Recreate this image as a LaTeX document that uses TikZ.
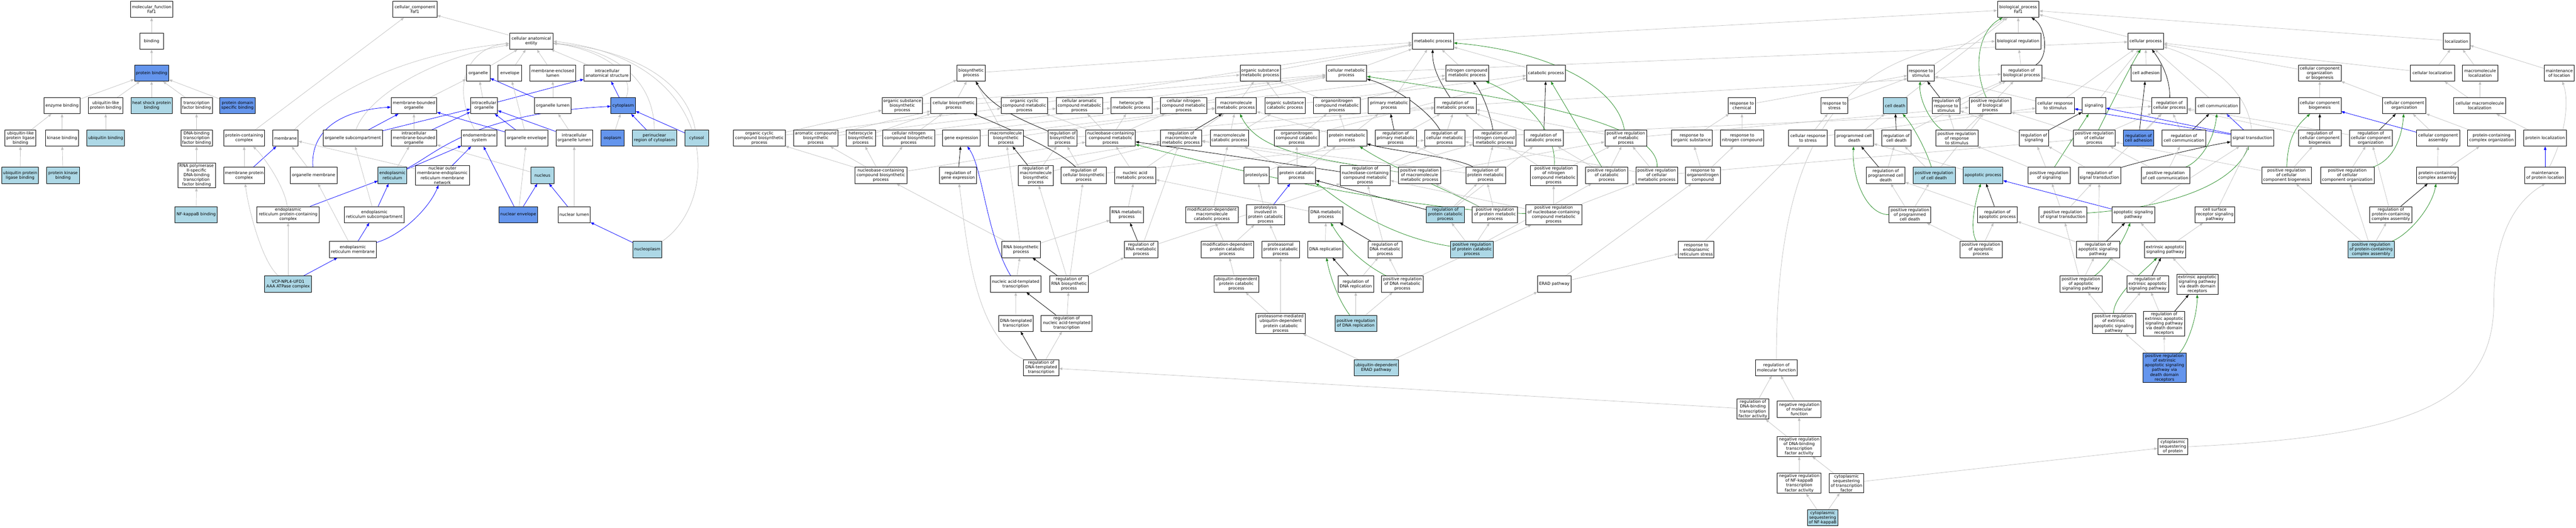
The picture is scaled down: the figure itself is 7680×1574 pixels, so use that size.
\documentclass[tikz,border=0pt]{standalone}
\usepackage{fontspec}
\setmainfont{DejaVu Sans}
\usetikzlibrary{arrows.meta}
\pgfdeclarelayer{background}
\pgfdeclarelayer{paper}
\pgfsetlayers{paper,background,main}
\definecolor{lbfill}{RGB}{173,216,230}
\definecolor{cbfill}{RGB}{100,149,237}
\definecolor{edgegray}{RGB}{192,192,192}
\definecolor{edgegreen}{RGB}{34,139,34}
\tikzset{
  gw/.style={draw=black, line width=1.2pt, fill=white, rectangle, align=center,
     inner xsep=2pt, inner ysep=3pt, minimum height=48pt,
     font=\fontsize{12.3}{14}\selectfont},
  glb/.style={gw, fill=lbfill},
  gcb/.style={gw, fill=cbfill},
  tipstyle/.style={-{Triangle[length=10pt,width=7.5pt]}},
  ge/.style={tipstyle, draw=edgegray, line width=1.1pt},
  be/.style={tipstyle, draw=blue, line width=1.2pt},
  ke/.style={tipstyle, draw=black, line width=1.2pt},
  gre/.style={tipstyle, draw=edgegreen, line width=1.2pt}
}
\newcommand{\gonode}[6]{\node[#1, minimum width=#5pt] (#2) at (#3,#4) {#6};}
\newcommand{\goed}[3]{\draw[#1] (#2) -- (#3);}
\begin{document}
\begin{tikzpicture}[x=1pt,y=-1pt]
\useasboundingbox (0,0) rectangle (7680,1574);
\begin{pgfonlayer}{paper}
\fill[white] (0,0) rectangle (7680,1574);
\end{pgfonlayer}
% ---------------- molecular function
\gonode{gw}{mf}{452}{28}{127}{molecular\_function\\Faf1}
\gonode{gw}{bind}{452}{123}{70}{binding}
\gonode{gcb}{pb}{452}{218}{102}{protein binding}
\gonode{gw}{enzb}{185}{315}{108}{enzyme binding}
\gonode{gw}{ublpb}{315}{315}{102}{ubiquitin-like\\protein binding}
\gonode{glb}{hspb}{452}{315}{123}{heat shock protein\\binding}
\gonode{gw}{tfb}{586}{315}{94}{transcription\\factor binding}
\gonode{gcb}{pdsb}{708}{315}{105}{protein domain\\specific binding}
\gonode{gw}{ublplb}{61}{412}{92}{ubiquitin-like\\protein ligase\\binding}
\gonode{gw}{kinb}{185}{412}{99}{kinase binding}
\gonode{glb}{ubb}{315}{412}{112}{ubiquitin binding}
\gonode{gw}{dbtfb}{586}{412}{94}{DNA-binding\\transcription\\factor binding}
\gonode{glb}{uplb}{60}{523}{110}{ubiquitin protein\\ligase binding}
\gonode{glb}{pkb}{188}{523}{97}{protein kinase\\binding}
\gonode{gw}{rnap}{586}{523}{112}{RNA polymerase\\II-specific\\DNA-binding\\transcription\\factor binding}
\gonode{glb}{nfkb}{585}{640}{126}{NF-kappaB binding}
% ---------------- cellular component
\gonode{gw}{cc}{1237}{28}{131}{cellular\_component\\Faf1}
\gonode{gw}{cae}{1584}{123}{130}{cellular anatomical\\entity}
\gonode{gw}{org}{1426}{218}{71}{organelle}
\gonode{gw}{env}{1520}{218}{71}{envelope}
\gonode{gw}{mel}{1648}{218}{137}{membrane-enclosed\\lumen}
\gonode{gw}{ias}{1810}{218}{139}{intracellular\\anatomical structure}
\gonode{gw}{mbo}{1234}{315}{136}{membrane-bounded\\organelle}
\gonode{gw}{io}{1443}{315}{81}{intracellular\\organelle}
\gonode{gw}{ol}{1648}{315}{110}{organelle lumen}
\gonode{gcb}{cyto}{1858}{315}{73}{cytoplasm}
\gonode{gw}{pcc}{728}{412}{122}{protein-containing\\complex}
\gonode{gw}{mem}{851}{412}{76}{membrane}
\gonode{gw}{osc}{1052}{412}{178}{organelle subcompartment}
\gonode{gw}{imbo}{1234}{412}{136}{intracellular\\membrane-bounded\\organelle}
\gonode{gw}{ems}{1429}{412}{106}{endomembrane\\system}
\gonode{gw}{oenv}{1570}{412}{128}{organelle envelope}
\gonode{gw}{iol}{1712}{412}{109}{intracellular\\organelle lumen}
\gonode{gcb}{oopl}{1826}{412}{70}{ooplasm}
\gonode{glb}{perin}{1951}{412}{133}{perinuclear\\region of cytoplasm}
\gonode{glb}{cytosol}{2077}{412}{70}{cytosol}
\gonode{gw}{mpc}{728}{523}{122}{membrane protein\\complex}
\gonode{gw}{omem}{935}{523}{139}{organelle membrane}
\gonode{glb}{er}{1170}{523}{86}{endoplasmic\\reticulum}
\gonode{gw}{nomer}{1319}{523}{162}{nuclear outer\\membrane-endoplasmic\\reticulum membrane\\network}
\gonode{glb}{nuc}{1617}{523}{70}{nucleus}
\gonode{gw}{erpcc}{859}{640}{186}{endoplasmic\\reticulum protein-containing\\complex}
\gonode{gw}{ersc}{1116}{640}{179}{endoplasmic\\reticulum subcompartment}
\gonode{gcb}{nenv}{1545}{640}{114}{nuclear envelope}
\gonode{gw}{nlum}{1712}{640}{96}{nuclear lumen}
\gonode{gw}{erm}{1052}{744}{139}{endoplasmic\\reticulum membrane}
\gonode{glb}{nplasm}{1930}{744}{87}{nucleoplasm}
\gonode{glb}{vcp}{859}{847}{140}{VCP-NPL4-UFD1\\AAA ATPase complex}
% ---------------- biological process
\gonode{gw}{bp}{6017}{28}{124}{biological\_process\\Faf1}
\gonode{gw}{breg}{6017}{123}{136}{biological regulation}
\gonode{gw}{mp}{4272}{123}{123}{metabolic process}
\gonode{gw}{cp}{6397}{123}{106}{cellular process}
\gonode{gw}{loc}{7324}{123}{79}{localization}
% R2
\gonode{gw}{biosyn}{2895}{218}{84}{biosynthetic\\process}
\gonode{gw}{osmp}{3757}{218}{120}{organic substance\\metabolic process}
\gonode{gw}{cmp}{4014}{218}{121}{cellular metabolic\\process}
\gonode{gw}{ncmp}{4374}{218}{128}{nitrogen compound\\metabolic process}
\gonode{gw}{catp}{4609}{218}{116}{catabolic process}
\gonode{gw}{rts}{5727}{218}{80}{response to\\stimulus}
\gonode{gw}{rbp}{6027}{218}{120}{regulation of\\biological process}
\gonode{gw}{cadh}{6398}{218}{89}{cell adhesion}
\gonode{gw}{ccob}{6916}{218}{127}{cellular component\\organization\\or biogenesis}
\gonode{gw}{cloc}{7252}{218}{131}{cellular localization}
\gonode{gw}{mloc}{7394}{218}{105}{macromolecule\\localization}
\gonode{gw}{mol}{7630}{218}{88}{maintenance\\of location}
% R3
\gonode{gw}{osbp}{2690}{315}{120}{organic substance\\biosynthetic\\process}
\gonode{gw}{cbp}{2843}{315}{136}{cellular biosynthetic\\process}
\gonode{gw}{occmp}{3054}{315}{139}{organic cyclic\\compound metabolic\\process}
\gonode{gw}{cacmp}{3218}{315}{138}{cellular aromatic\\compound metabolic\\process}
\gonode{gw}{hmp}{3373}{315}{123}{heterocycle\\metabolic process}
\gonode{gw}{cncmp}{3529}{315}{139}{cellular nitrogen\\compound metabolic\\process}
\gonode{gw}{mmp}{3685}{315}{122}{macromolecule\\metabolic process}
\gonode{gw}{oscp}{3831}{315}{120}{organic substance\\catabolic process}
\gonode{gw}{oncmp}{3986}{315}{139}{organonitrogen\\compound metabolic\\process}
\gonode{gw}{pmp}{4141}{315}{124}{primary metabolic\\process}
\gonode{gw}{rmp}{4339}{315}{123}{regulation of\\metabolic process}
\gonode{gw}{rchem}{5193}{315}{80}{response to\\chemical}
\gonode{gw}{rstress}{5469}{315}{80}{response to\\stress}
\gonode{glb}{cdeath}{5650}{315}{70}{cell death}
\gonode{gw}{rrts}{5802}{315}{83}{regulation of\\response to\\stimulus}
\gonode{gw}{prbp}{5933}{315}{125}{positive regulation\\of biological\\process}
\gonode{gw}{crts}{6127}{315}{115}{cellular response\\to stimulus}
\gonode{gw}{sig}{6243}{315}{71}{signaling}
\gonode{gw}{rcp}{6468}{315}{106}{regulation of\\cellular process}
\gonode{gw}{ccomm}{6612}{315}{132}{cell communication}
\gonode{gw}{ccbio}{6916}{315}{127}{cellular component\\biogenesis}
\gonode{gw}{ccorg}{7168}{315}{129}{cellular component\\organization}
\gonode{gw}{cmloc}{7393}{315}{155}{cellular macromolecule\\localization}
% R4
\gonode{gw}{occbp}{2264}{412}{154}{organic cyclic\\compound biosynthetic\\process}
\gonode{gw}{acbp}{2432}{412}{133}{aromatic compound\\biosynthetic\\process}
\gonode{gw}{hbp}{2566}{412}{88}{heterocycle\\biosynthetic\\process}
\gonode{gw}{cncbp}{2709}{412}{155}{cellular nitrogen\\compound biosynthetic\\process}
\gonode{gw}{gexp}{2866}{412}{111}{gene expression}
\gonode{gw}{mbp}{2999}{412}{104}{macromolecule\\biosynthetic\\process}
\gonode{gw}{rbiosyn}{3168}{412}{86}{regulation of\\biosynthetic\\process}
\gonode{gw}{nccmp}{3311}{412}{148}{nucleobase-containing\\compound metabolic\\process}
\gonode{gw}{rmmp}{3521}{412}{122}{regulation of\\macromolecule\\metabolic process}
\gonode{gw}{mcp}{3665}{412}{114}{macromolecule\\catabolic process}
\gonode{gw}{onccp}{3866}{412}{133}{organonitrogen\\compound catabolic\\process}
\gonode{gw}{protmp}{4016}{412}{118}{protein metabolic\\process}
\gonode{gw}{rpmp}{4161}{412}{123}{regulation of\\primary metabolic\\process}
\gonode{gw}{rcmp}{4307}{412}{120}{regulation of\\cellular metabolic\\process}
\gonode{gw}{rncmp}{4456}{412}{128}{regulation of\\nitrogen compound\\metabolic process}
\gonode{gw}{rcatp}{4602}{412}{116}{regulation of\\catabolic process}
\gonode{gw}{prmp}{4847}{412}{125}{positive regulation\\of metabolic\\process}
\gonode{gw}{ros}{5044}{412}{120}{response to\\organic substance}
\gonode{gw}{rnc}{5194}{412}{129}{response to\\nitrogen compound}
\gonode{gw}{crstress}{5390}{412}{115}{cellular response\\to stress}
\gonode{gw}{pcd}{5528}{412}{115}{programmed cell\\death}
\gonode{gw}{rcd}{5654}{412}{87}{regulation of\\cell death}
\gonode{gw}{prrts}{5834}{412}{125}{positive regulation\\of response\\to stimulus}
\gonode{gw}{rsig}{6064}{412}{87}{regulation of\\signaling}
\gonode{gw}{prcp}{6244}{412}{125}{positive regulation\\of cellular\\process}
\gonode{gcb}{rcadh}{6376}{412}{90}{regulation of\\cell adhesion}
\gonode{gw}{rccomm}{6511}{412}{130}{regulation of\\cell communication}
\gonode{gw}{sigtr}{6715}{412}{128}{signal transduction}
\gonode{gw}{rccbio}{6916}{412}{127}{regulation of\\cellular component\\biogenesis}
\gonode{gw}{rccorg}{7068}{412}{128}{regulation of\\cellular component\\organization}
\gonode{gw}{ccasm}{7269}{412}{128}{cellular component\\assembly}
\gonode{gw}{pcco}{7428}{412}{143}{protein-containing\\complex organization}
\gonode{gw}{ploc}{7588}{412}{127}{protein localization}
% R5
\gonode{gw}{ncbp}{2626}{523}{155}{nucleobase-containing\\compound biosynthetic\\process}
\gonode{gw}{rgexp}{2856}{523}{110}{regulation of\\gene expression}
\gonode{gw}{rmbp}{3088}{523}{105}{regulation of\\macromolecule\\biosynthetic\\process}
\gonode{gw}{rcbp}{3231}{523}{136}{regulation of\\cellular biosynthetic\\process}
\gonode{gw}{namp}{3384}{523}{123}{nucleic acid\\metabolic process}
\gonode{gw}{prot}{3746}{523}{76}{proteolysis}
\gonode{gw}{pcatp}{3866}{523}{113}{protein catabolic\\process}
\gonode{gw}{rnccmp}{4070}{523}{149}{regulation of\\nucleobase-containing\\compound metabolic\\process}
\gonode{gw}{prmmp}{4232}{523}{125}{positive regulation\\of macromolecule\\metabolic process}
\gonode{gw}{rprotmp}{4429}{523}{118}{regulation of\\protein metabolic\\process}
\gonode{gw}{prncmp}{4632}{523}{139}{positive regulation\\of nitrogen\\compound metabolic\\process}
\gonode{gw}{prcatp}{4790}{523}{125}{positive regulation\\of catabolic\\process}
\gonode{gw}{prcmp}{4939}{523}{124}{positive regulation\\of cellular\\metabolic process}
\gonode{gw}{ronc}{5077}{523}{104}{response to\\organonitrogen\\compound}
\gonode{gw}{rpcd}{5622}{523}{115}{regulation of\\programmed cell\\death}
\gonode{glb}{prcd}{5766}{523}{126}{positive regulation\\of cell death}
\gonode{glb}{apop}{5912}{523}{119}{apoptotic process}
\gonode{gw}{prsig}{6109}{523}{126}{positive regulation\\of signaling}
\gonode{gw}{rst}{6259}{523}{126}{regulation of\\signal transduction}
\gonode{gw}{prccomm}{6456}{523}{145}{positive regulation\\of cell communication}
\gonode{gw}{prccbio}{6817}{523}{148}{positive regulation\\of cellular\\component biogenesis}
\gonode{gw}{prccorg}{6998}{523}{160}{positive regulation\\of cellular\\component organization}
\gonode{gw}{pcca}{7267}{523}{125}{protein-containing\\complex assembly}
\gonode{gw}{mploc}{7588}{523}{122}{maintenance\\of protein location}
% R6
\gonode{gw}{rnamp}{3359}{640}{99}{RNA metabolic\\process}
\gonode{gw}{mdmcp}{3613}{640}{156}{modification-dependent\\macromolecule\\catabolic process}
\gonode{gw}{pipcp}{3773}{640}{113}{proteolysis\\involved in\\protein catabolic\\process}
\gonode{gw}{dnamp}{3953}{640}{102}{DNA metabolic\\process}
\gonode{glb}{rpcatp}{4309}{640}{113}{regulation of\\protein catabolic\\process}
\gonode{gw}{prprotmp}{4457}{640}{135}{positive regulation\\of protein metabolic\\process}
\gonode{gw}{prnccmp}{4632}{640}{167}{positive regulation\\of nucleobase-containing\\compound metabolic\\process}
\gonode{gw}{prpcd}{5694}{640}{125}{positive regulation\\of programmed\\cell death}
\gonode{gw}{rapop}{5955}{640}{119}{regulation of\\apoptotic process}
\gonode{gw}{prst}{6150}{640}{143}{positive regulation\\of signal transduction}
\gonode{gw}{asp}{6360}{640}{128}{apoptotic signaling\\pathway}
\gonode{gw}{csrsp}{6603}{640}{119}{cell surface\\receptor signaling\\pathway}
\gonode{gw}{rpcca}{7128}{640}{126}{regulation of\\protein-containing\\complex assembly}
% R7
\gonode{gw}{rnabp}{3044}{744}{115}{RNA biosynthetic\\process}
\gonode{gw}{rrnamp}{3402}{744}{100}{regulation of\\RNA metabolic\\process}
\gonode{gw}{mdpcp}{3659}{744}{157}{modification-dependent\\protein catabolic\\process}
\gonode{gw}{ppcp}{3818}{744}{112}{proteasomal\\protein catabolic\\process}
\gonode{gw}{dnarep}{3951}{744}{105}{DNA replication}
\gonode{gw}{rdnamp}{4129}{744}{102}{regulation of\\DNA metabolic\\process}
\gonode{glb}{prpcatp}{4388}{744}{128}{positive regulation\\of protein catabolic\\process}
\gonode{gw}{rers}{5057}{744}{106}{response to\\endoplasmic\\reticulum stress}
\gonode{gw}{prapop}{5906}{744}{126}{positive regulation\\of apoptotic\\process}
\gonode{gw}{rasp}{6255}{744}{128}{regulation of\\apoptotic signaling\\pathway}
\gonode{gw}{easp}{6455}{744}{123}{extrinsic apoptotic\\signaling pathway}
\gonode{glb}{prpcca}{7069}{744}{139}{positive regulation\\of protein-containing\\complex assembly}
% R8
\gonode{gw}{natt}{3028}{847}{151}{nucleic acid-templated\\transcription}
\gonode{gw}{rrnabp}{3187}{847}{115}{regulation of\\RNA biosynthetic\\process}
\gonode{gw}{udpcp}{3686}{847}{134}{ubiquitin-dependent\\protein catabolic\\process}
\gonode{gw}{rdnarep}{4042}{847}{106}{regulation of\\DNA replication}
\gonode{gw}{prdnamp}{4181}{847}{125}{positive regulation\\of DNA metabolic\\process}
\gonode{gw}{erad}{4634}{847}{100}{ERAD pathway}
\gonode{gw}{prasp}{6204}{847}{126}{positive regulation\\of apoptotic\\signaling pathway}
\gonode{gw}{reasp}{6403}{847}{124}{regulation of\\extrinsic apoptotic\\signaling pathway}
\gonode{gw}{easpdd}{6551}{848}{123}{extrinsic apoptotic\\signaling pathway\\via death domain\\receptors}
% R9
\gonode{gw}{dnatt}{3029}{964}{104}{DNA-templated\\transcription}
\gonode{gw}{rnatt}{3180}{964}{152}{regulation of\\nucleic acid-templated\\transcription}
\gonode{gw}{pmudpcp}{3818}{965}{147}{proteasome-mediated\\ubiquitin-dependent\\protein catabolic\\process}
\gonode{glb}{prdnarep}{4042}{964}{124}{positive regulation\\of DNA replication}
\gonode{gw}{preasp}{6302}{965}{129}{positive regulation\\of extrinsic\\apoptotic signaling\\pathway}
\gonode{gw}{reaspdd}{6452}{965}{123}{regulation of\\extrinsic apoptotic\\signaling pathway\\via death domain\\receptors}
% R10+
\gonode{gw}{rdnatt}{3104}{1096}{105}{regulation of\\DNA-templated\\transcription}
\gonode{glb}{uerad}{4103}{1096}{133}{ubiquitin-dependent\\ERAD pathway}
\gonode{gw}{rmf}{5296}{1096}{125}{regulation of\\molecular function}
\gonode{gcb}{preaspdd}{6453}{1097}{128}{positive regulation\\of extrinsic\\apoptotic signaling\\pathway via\\death domain\\receptors}
\gonode{gw}{rdbtfa}{5226}{1220}{94}{regulation of\\DNA-binding\\transcription\\factor activity}
\gonode{gw}{nrmf}{5364}{1220}{131}{negative regulation\\of molecular\\function}
\gonode{gw}{nrdbtfa}{5364}{1331}{131}{negative regulation\\of DNA-binding\\transcription\\factor activity}
\gonode{gw}{csprot}{6478}{1332}{90}{cytoplasmic\\sequestering\\of protein}
\gonode{gw}{nrnfkb}{5364}{1441}{131}{negative regulation\\of NF-kappaB\\transcription\\factor activity}
\gonode{gw}{cstf}{5505}{1441}{103}{cytoplasmic\\sequestering\\of transcription\\factor}
\gonode{glb}{csnfkb}{5434}{1544}{91}{cytoplasmic\\sequestering\\of NF-kappaB}

\begin{pgfonlayer}{background}
% MF edges
\goed{ge}{bind}{mf}\goed{ge}{pb}{bind}
\goed{ge}{enzb}{pb}\goed{ge}{ublpb}{pb}\goed{ge}{hspb}{pb}\goed{ge}{tfb}{pb}\goed{ge}{pdsb}{pb}
\goed{ge}{ublplb}{enzb}\goed{ge}{kinb}{enzb}\goed{ge}{ubb}{ublpb}\goed{ge}{dbtfb}{tfb}
\goed{ge}{uplb}{ublplb}\goed{ge}{pkb}{kinb}\goed{ge}{rnap}{dbtfb}\goed{ge}{nfkb}{rnap}
% CC edges
\goed{ge}{cae}{cc}\goed{ge}{pcc}{cc}
\draw[ge] (mem) .. controls (1050,220) and (1300,150) .. (cae);
\draw[ge] (osc) .. controls (1100,280) and (1300,170) .. (cae);
\goed{ge}{org}{cae}\goed{ge}{env}{cae}\goed{ge}{mel}{cae}\goed{ge}{ias}{cae}
\goed{ge}{mbo}{org}\goed{ge}{io}{org}\goed{be}{io}{ias}\goed{ge}{ol}{mel}\goed{be}{ol}{org}
\goed{be}{cyto}{ias}
\draw[ge] (cyto) .. controls (1900,200) and (1750,140) .. (cae);
\goed{ge}{imbo}{mbo}\goed{be}{imbo}{io}\goed{be}{osc}{mbo}\goed{be}{osc}{io}
\draw[ge] (ems) .. controls (1340,250) and (1400,140) .. (cae);
\goed{ge}{oenv}{env}\goed{be}{oenv}{io}\goed{be}{oenv}{mbo}
\goed{ge}{iol}{ol}\goed{be}{iol}{io}\goed{ge}{oopl}{cyto}\goed{be}{perin}{cyto}
\draw[ge] (perin) .. controls (1950,250) and (1850,150) .. (cae);
\goed{be}{cytosol}{cyto}
\draw[ge] (cytosol) .. controls (2050,250) and (1900,150) .. (cae);
\goed{ge}{nuc}{imbo}\goed{be}{nenv}{nuc}\goed{ge}{nenv}{oenv}\goed{be}{nenv}{ems}
\goed{be}{nlum}{nuc}\goed{ge}{nlum}{iol}\goed{be}{nplasm}{nlum}
\draw[ge] (nplasm.north east) .. controls (2150,600) and (2150,180) .. (cae.east);
\goed{ge}{mpc}{pcc}\goed{be}{mpc}{mem}\goed{ge}{omem}{mem}
\draw[be] (omem) .. controls (925,400) and (1000,330) .. (mbo);
\goed{ge}{er}{imbo}
\draw[be] (er) .. controls (1300,460) and (1400,340) .. (cyto);
\goed{be}{er}{ems}\goed{be}{nomer}{ems}\goed{ge}{nomer}{mem}
\draw[ge] (erpcc) .. controls (850,560) and (790,470) .. (pcc);
\goed{be}{erpcc}{er}\goed{ge}{ersc}{osc}\goed{be}{ersc}{er}
\goed{ge}{erm}{omem}\goed{be}{erm}{ersc}
\draw[be] (erm) .. controls (1200,700) and (1280,620) .. (nomer);
\goed{ge}{vcp}{erpcc}
\draw[ge] (vcp) .. controls (780,780) and (740,620) .. (mpc);
\goed{be}{vcp}{erm}
% BP top
\goed{ge}{breg}{bp}\goed{ge}{cp}{bp}\goed{ge}{mp}{bp}\goed{ge}{loc}{bp}\goed{ge}{rts}{bp}\goed{ge}{cdeath}{bp}
\goed{ge}{rbp}{breg}
\draw[ke] (rbp) .. controls (6110,170) and (6100,80) .. (bp);
\goed{ge}{prbp}{rbp}
\draw[gre] (prbp) .. controls (5880,200) and (5900,90) .. (bp);
\goed{ge}{cadh}{cp}\goed{ge}{biosyn}{mp}\goed{ge}{cmp}{mp}\goed{ge}{cmp}{cp}\goed{ge}{ncmp}{mp}
\goed{ge}{catp}{mp}\goed{ge}{osmp}{mp}\goed{ge}{pmp}{mp}
\draw[ke] (rmp) .. controls (4290,240) and (4270,200) .. (mp);
\goed{ge}{rmp}{rbp}\goed{ge}{ccob}{cp}\goed{ge}{ccomm}{cp}
\draw[ke] (rcp) .. controls (6470,230) and (6440,180) .. (cp);
\goed{ge}{rcp}{rbp}\goed{ge}{crts}{cp}\goed{ge}{crts}{rts}\goed{ge}{sig}{cp}
\goed{ge}{cloc}{loc}\goed{ge}{cloc}{cp}\goed{ge}{mloc}{loc}\goed{ge}{mol}{loc}
\goed{ge}{rchem}{rts}\goed{ge}{rstress}{rts}\goed{ke}{rrts}{rts}\goed{ge}{rrts}{rbp}
% R3
\goed{ge}{osbp}{biosyn}\goed{ge}{osbp}{osmp}\goed{ge}{cbp}{biosyn}\goed{ge}{cbp}{cmp}
\goed{ge}{occmp}{mp}\goed{ge}{cacmp}{cmp}\goed{ge}{hmp}{cmp}\goed{ge}{cncmp}{ncmp}\goed{ge}{cncmp}{cmp}
\goed{ge}{mmp}{osmp}\goed{ge}{oscp}{catp}\goed{ge}{oscp}{osmp}\goed{ge}{oncmp}{ncmp}\goed{ge}{oncmp}{osmp}
% R4
\goed{ge}{occbp}{occmp}\goed{ge}{occbp}{osbp}\goed{ge}{acbp}{cacmp}\goed{ge}{acbp}{cbp}
\goed{ge}{hbp}{hmp}\goed{ge}{hbp}{cbp}\goed{ge}{cncbp}{cncmp}\goed{ge}{cncbp}{cbp}
\goed{ge}{gexp}{mmp}\goed{ge}{mbp}{mmp}\goed{ge}{mbp}{biosyn}
\draw[ke] (rbiosyn) .. controls (3080,370) and (2960,330) .. (biosyn);
\goed{ge}{rbiosyn}{rmp}
\goed{ge}{nccmp}{occmp}\goed{ge}{nccmp}{cacmp}\goed{ge}{nccmp}{hmp}\goed{ge}{nccmp}{cncmp}
\goed{ke}{rmmp}{mmp}\goed{ge}{rmmp}{rmp}\goed{ge}{mcp}{mmp}\goed{ge}{mcp}{oscp}
\goed{ge}{onccp}{oncmp}\goed{ge}{onccp}{catp}
\goed{ge}{protmp}{mmp}\goed{ge}{protmp}{oncmp}\goed{ge}{protmp}{pmp}
\goed{ke}{rpmp}{pmp}\goed{ge}{rpmp}{rmp}
\draw[ke] (rcmp) .. controls (4260,330) and (4160,260) .. (cmp);
\goed{ge}{rcmp}{rmp}\goed{ge}{rcmp}{rcp}
\draw[ke] (rncmp) .. controls (4440,330) and (4420,280) .. (ncmp);
\goed{ge}{rncmp}{rmp}\goed{ke}{rcatp}{catp}\goed{ge}{rcatp}{rmp}
\draw[gre] (prmp) .. controls (4820,250) and (4600,150) .. (mp);
\goed{ge}{prmp}{rmp}\goed{ge}{prmp}{prbp}
\goed{ge}{ros}{rchem}\goed{ge}{rnc}{rchem}\goed{ge}{crstress}{rstress}\goed{ge}{crstress}{crts}
\goed{ge}{pcd}{cdeath}\goed{ke}{rcd}{cdeath}\goed{ge}{rcd}{rbp}
\draw[gre] (prrts) .. controls (5760,370) and (5720,300) .. (rts);
\goed{ge}{prrts}{rrts}\goed{ge}{prrts}{prbp}
\goed{ke}{rsig}{sig}\goed{ge}{rsig}{rrts}
\draw[gre] (prcp) .. controls (6300,300) and (6350,200) .. (cp);
\goed{ge}{prcp}{rcp}\goed{ge}{prcp}{prbp}
\goed{ke}{rcadh}{cadh}\goed{ge}{rcadh}{rcp}\goed{ke}{rccomm}{ccomm}\goed{ge}{rccomm}{rcp}
\goed{be}{sigtr}{sig}\goed{be}{sigtr}{crts}\goed{be}{sigtr}{ccomm}
\draw[ge] (sigtr) .. controls (6700,250) and (6550,170) .. (cp);
\goed{ke}{rccbio}{ccbio}\goed{ge}{rccbio}{rcp}\goed{ke}{rccorg}{ccorg}\goed{ge}{rccorg}{rcp}
\goed{ge}{ccbio}{ccob}\goed{ge}{ccorg}{ccob}\goed{ge}{cmloc}{cloc}\goed{ge}{cmloc}{mloc}
\goed{ge}{ccasm}{ccorg}\goed{be}{ccasm}{ccbio}\goed{ge}{pcco}{ccorg}\goed{ge}{ploc}{cmloc}
\draw[ge] (mploc) .. controls (7650,400) and (7660,300) .. (mol);
% R5
\goed{ge}{ncbp}{nccmp}\goed{ge}{ncbp}{hbp}\goed{ge}{ncbp}{acbp}\goed{ge}{ncbp}{occbp}\goed{ge}{ncbp}{cncbp}
\goed{ke}{rgexp}{gexp}\goed{ge}{rgexp}{rmmp}
\goed{ke}{rmbp}{mbp}\goed{ge}{rmbp}{rbiosyn}\goed{ge}{rmbp}{rmmp}
\draw[ke] (rcbp) .. controls (3160,450) and (3000,380) .. (cbp);
\goed{ge}{rcbp}{rbiosyn}\goed{ge}{rcbp}{rcmp}
\goed{ge}{namp}{nccmp}\goed{ge}{namp}{mmp}\goed{ge}{prot}{protmp}
\goed{ge}{pcatp}{protmp}\goed{ge}{pcatp}{onccp}\goed{ge}{pcatp}{mcp}
\goed{ke}{rnccmp}{nccmp}\goed{ge}{rnccmp}{rcmp}\goed{ge}{rnccmp}{rncmp}
\draw[gre] (prmmp) .. controls (3900,470) and (3750,450) .. (mmp);
\goed{ge}{prmmp}{rmmp}\goed{ge}{prmmp}{prmp}
\draw[ke] (rprotmp) .. controls (4350,470) and (4150,450) .. (protmp);
\goed{ge}{rprotmp}{rmmp}\goed{ge}{rprotmp}{rpmp}\goed{ge}{rprotmp}{rncmp}
\draw[gre] (prncmp) .. controls (4640,400) and (4560,300) .. (ncmp);
\goed{ge}{prncmp}{rncmp}\goed{ge}{prncmp}{prmp}
\goed{gre}{prcatp}{catp}\goed{ge}{prcatp}{rcatp}\goed{ge}{prcatp}{prmp}
\draw[gre] (prcmp) .. controls (4950,350) and (4400,280) .. (cmp);
\goed{ge}{prcmp}{rcmp}\goed{ge}{prcmp}{prmp}\goed{ge}{prcmp}{prcp}
\goed{ge}{ronc}{ros}\goed{ge}{ronc}{rnc}
\goed{ke}{rpcd}{pcd}\goed{ge}{rpcd}{rcd}
\draw[gre] (prcd) .. controls (5740,440) and (5700,370) .. (cdeath);
\goed{ge}{prcd}{rcd}\goed{ge}{prcd}{prbp}\goed{ge}{apop}{pcd}
\goed{gre}{prsig}{sig}\goed{ge}{prsig}{rsig}\goed{ge}{prsig}{prrts}
\draw[ke] (rst) .. controls (6350,490) and (6550,440) .. (sigtr);
\goed{ge}{rst}{rsig}\goed{ge}{rst}{rcp}
\draw[gre] (prccomm) .. controls (6560,480) and (6600,420) .. (ccomm);
\goed{ge}{prccomm}{rccomm}\goed{ge}{prccomm}{prcp}
\draw[gre] (prccbio) .. controls (6820,420) and (6840,380) .. (ccbio);
\goed{ge}{prccbio}{rccbio}\goed{ge}{prccbio}{prcp}
\draw[gre] (prccorg) .. controls (7130,480) and (7160,420) .. (ccorg);
\goed{ge}{prccorg}{rccorg}
\goed{ge}{pcca}{ccasm}\goed{ge}{pcca}{pcco}\goed{be}{mploc}{ploc}
% R6
\goed{ge}{rnamp}{namp}\goed{ge}{mdmcp}{mcp}\goed{ge}{pipcp}{prot}\goed{be}{pipcp}{pcatp}\goed{ge}{dnamp}{namp}
\goed{ke}{rpcatp}{pcatp}\goed{ge}{rpcatp}{rprotmp}\goed{ge}{rpcatp}{rcatp}
\draw[gre] (prprotmp) .. controls (4300,560) and (4150,500) .. (protmp);
\goed{ge}{prprotmp}{rprotmp}\goed{ge}{prprotmp}{prmmp}
\draw[gre] (prnccmp) .. controls (4100,620) and (3500,460) .. (nccmp);
\goed{ge}{prnccmp}{rnccmp}\goed{ge}{prnccmp}{prcmp}\goed{ge}{prnccmp}{prncmp}
\draw[gre] (prpcd) .. controls (5560,640) and (5520,520) .. (pcd);
\goed{ge}{prpcd}{rpcd}\goed{ge}{prpcd}{prcd}
\goed{ke}{rapop}{apop}\goed{ge}{rapop}{rpcd}
\draw[gre] (prst) .. controls (6450,620) and (6650,560) .. (sigtr);
\goed{ge}{prst}{rst}\goed{ge}{prst}{prsig}
\goed{be}{asp}{apop}\goed{ge}{asp}{sigtr}\goed{ge}{csrsp}{sigtr}
\goed{ke}{rpcca}{pcca}\goed{ge}{rpcca}{rccorg}
% R7
\goed{ge}{rnabp}{rnamp}\goed{ge}{rnabp}{mbp}\goed{ge}{rnabp}{ncbp}
\goed{ke}{rrnamp}{rnamp}\goed{ge}{rrnamp}{rnccmp}\goed{ge}{rrnamp}{rmmp}
\goed{ge}{mdpcp}{mdmcp}\goed{ge}{mdpcp}{pipcp}\goed{ge}{ppcp}{pipcp}
\goed{ge}{dnarep}{dnamp}\goed{ke}{rdnamp}{dnamp}\goed{ge}{rdnamp}{rnccmp}
\draw[gre] (prpcatp) .. controls (4100,700) and (3950,560) .. (pcatp);
\goed{ge}{prpcatp}{rpcatp}\goed{ge}{prpcatp}{prprotmp}\goed{ge}{prpcatp}{prcatp}
\goed{ge}{rers}{crstress}
\draw[gre] (prapop) .. controls (5870,680) and (5890,600) .. (apop);
\goed{ge}{prapop}{rapop}\goed{ge}{prapop}{prpcd}
\goed{ke}{rasp}{asp}\goed{ge}{rasp}{rst}\goed{ge}{rasp}{rapop}
\goed{ge}{easp}{asp}\goed{ge}{easp}{csrsp}
\draw[gre] (prpcca) .. controls (7180,700) and (7250,620) .. (pcca);
\goed{ge}{prpcca}{rpcca}\goed{ge}{prpcca}{prccorg}\goed{ge}{prpcca}{prccbio}
% R8
\goed{ge}{natt}{rnabp}
\draw[be] (natt) .. controls (2940,700) and (2930,500) .. (gexp);
\goed{ke}{rrnabp}{rnabp}\goed{ge}{rrnabp}{rrnamp}\goed{ge}{rrnabp}{rmbp}\goed{ge}{rrnabp}{rcbp}
\goed{ge}{udpcp}{mdpcp}\goed{ke}{rdnarep}{dnarep}\goed{ge}{rdnarep}{rdnamp}
\draw[gre] (prdnamp) .. controls (4050,780) and (4000,720) .. (dnamp);
\goed{ge}{prdnamp}{rdnamp}\goed{ge}{prdnamp}{prnccmp}
\goed{ge}{erad}{rers}\goed{ge}{erad}{ronc}
\draw[gre] (prasp) .. controls (6280,800) and (6330,720) .. (asp);
\goed{ge}{prasp}{rasp}\goed{ge}{prasp}{prst}
\goed{ke}{reasp}{easp}\goed{ge}{reasp}{rasp}\goed{ge}{easpdd}{easp}
% R9
\goed{ge}{dnatt}{natt}\goed{ke}{rnatt}{natt}\goed{ge}{rnatt}{rrnabp}
\goed{ge}{pmudpcp}{udpcp}\goed{ge}{pmudpcp}{ppcp}
\draw[gre] (prdnarep) .. controls (3980,880) and (3960,800) .. (dnarep);
\goed{ge}{prdnarep}{rdnarep}\goed{ge}{prdnarep}{prdnamp}
\draw[gre] (preasp) .. controls (6300,880) and (6400,800) .. (easp);
\goed{ge}{preasp}{reasp}\goed{ge}{preasp}{prasp}
\goed{ke}{reaspdd}{easpdd}\goed{ge}{reaspdd}{reasp}
% R10+
\goed{ke}{rdnatt}{dnatt}\goed{ge}{rdnatt}{rnatt}
\draw[ge] (rdnatt) .. controls (2900,1000) and (2880,700) .. (rgexp);
\goed{ge}{uerad}{erad}\goed{ge}{uerad}{pmudpcp}
\draw[ge] (rmf.north) .. controls (5296,400) and (5500,150) .. (breg.west);
\draw[gre] (preaspdd) .. controls (6520,1030) and (6550,950) .. (easpdd);
\goed{ge}{preaspdd}{reaspdd}\goed{ge}{preaspdd}{preasp}
\goed{ge}{rdbtfa}{rmf}\goed{ge}{rdbtfa}{rdnatt}\goed{ge}{nrmf}{rmf}
\goed{ge}{nrdbtfa}{rdbtfa}\goed{ge}{nrdbtfa}{nrmf}\goed{ge}{nrnfkb}{nrdbtfa}
\goed{ge}{cstf}{nrdbtfa}\goed{ge}{cstf}{csprot}
\goed{ge}{csnfkb}{nrnfkb}\goed{ge}{csnfkb}{cstf}
\draw[ge] (csprot.east) .. controls (7200,1300) and (7435,1200) .. (7435,900) .. controls (7435,700) and (7500,600) .. (mploc.south);
\end{pgfonlayer}
\end{tikzpicture}
\end{document}
